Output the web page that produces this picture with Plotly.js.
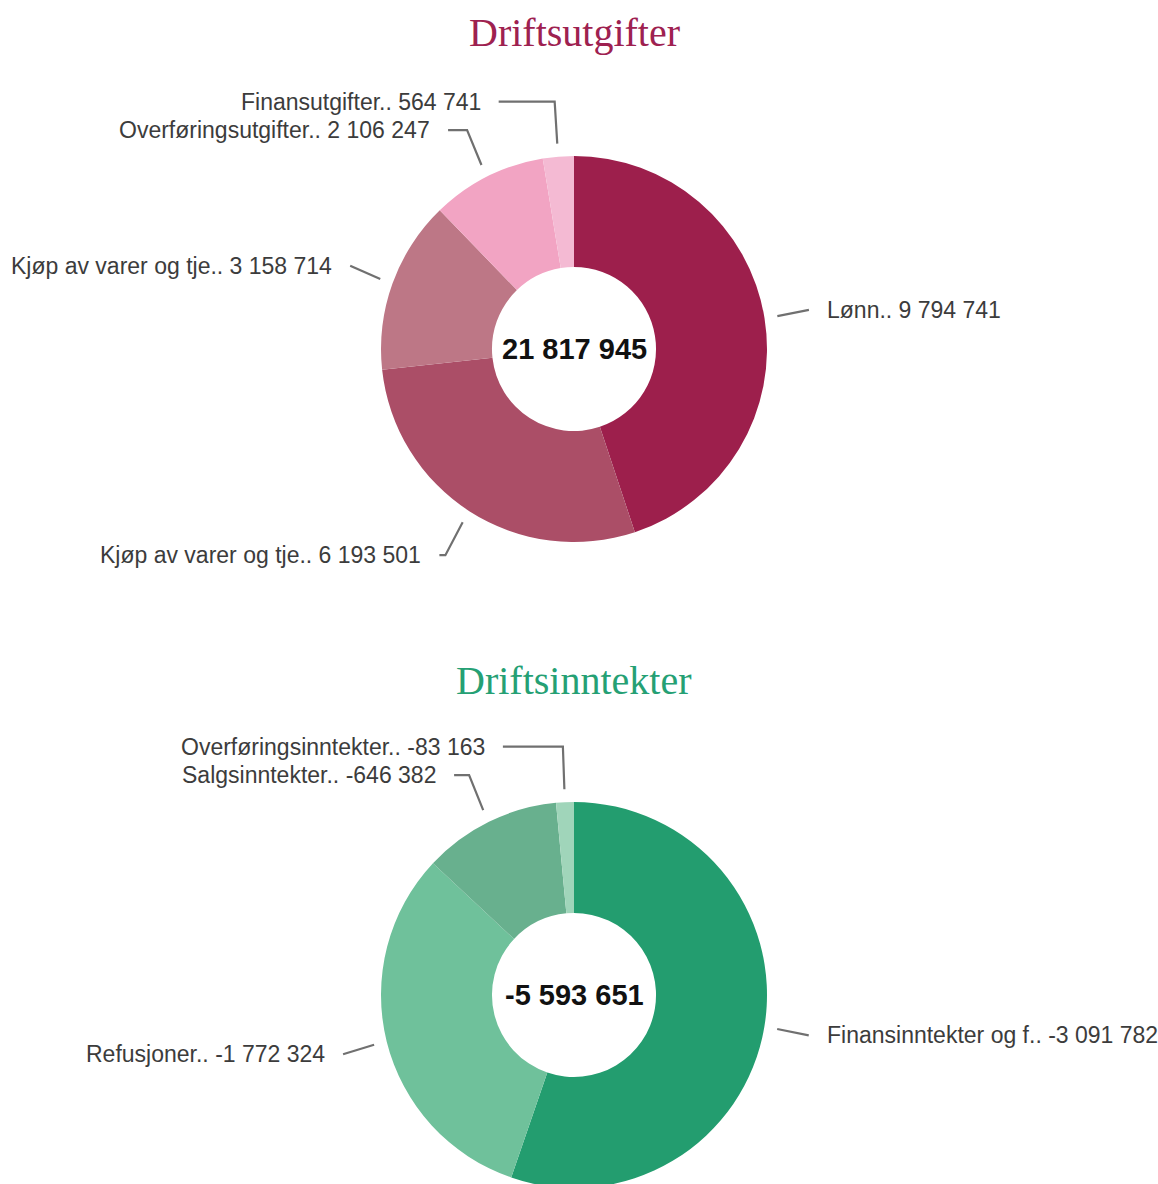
<!DOCTYPE html>
<html>
<head>
<meta charset="utf-8">
<script src="https://cdn.plot.ly/plotly-3.0.1.min.js"></script>
<style>
html,body{margin:0;padding:0;width:1158px;height:1184px;overflow:hidden;background:#fff;}
#chart{width:1158px;height:1250px;}
</style>
</head>
<body>
<div id="chart"></div>
<script>
// ---- data ----
const utgiftLabels = ["Lønn..", "Kjøp av varer og tje..", "Kjøp av varer og tje..", "Overføringsutgifter..", "Finansutgifter.."];
const utgiftValues = [9794741, 6193501, 3158714, 2106247, 564741];
const utgiftTotal = 21817945;

const inntektLabels = ["Finansinntekter og f..", "Refusjoner..", "Salgsinntekter..", "Overføringsinntekter.."];
const inntektValues = [-3091782, -1772324, -646382, -83163];
const inntektTotal = -5593651;

const titles = ["Driftsutgifter", "Driftsinntekter"];

// ---- style ----
const W = 1158, H = 1250;
const utgiftColors = ["#9d1f4c", "#ab4e67", "#bd7786", "#f2a4c3", "#f4bad3"];
const inntektColors = ["#239d6f", "#6fc19b", "#68b08e", "#a0d5ba"];
const titleColors = ["#9e2150", "#25a074"];
const pies = [
  {cx: 574, cy: 349, R: 193, hlen: [0, 6, 0, 19, 56], titleY: 33},
  {cx: 574, cy: 995, R: 193, hlen: [0, 0, 15, 60], titleY: 680}
];
const HOLE = 0.425;
const LABEL_RX = 45, LABEL_RY = 52, TICK_START = 13, GAP = 28.5, TEXT_PAD = 16;

function fmt(n) {
  const neg = n < 0;
  let s = Math.abs(Math.round(n)).toString();
  s = s.replace(/\B(?=(\d{3})+(?!\d))/g, " ");
  return (neg ? "-" : "") + s;
}
const px = v => v / W;
const py = v => 1 - v / H;

const datasets = [
  {labels: utgiftLabels, values: utgiftValues, total: utgiftTotal, colors: utgiftColors},
  {labels: inntektLabels, values: inntektValues, total: inntektTotal, colors: inntektColors}
];

const traces = [];
const annotations = [];
const shapes = [];

datasets.forEach((d, k) => {
  const p = pies[k];
  const absVals = d.values.map(v => Math.abs(v));
  traces.push({
    type: "pie",
    values: absVals,
    labels: d.labels.map((l, i) => l + " " + i),
    hole: HOLE,
    sort: false,
    direction: "clockwise",
    rotation: 0,
    textinfo: "none",
    hoverinfo: "none",
    showlegend: false,
    marker: {colors: d.colors, line: {width: 0}},
    domain: {
      x: [px(p.cx - p.R), px(p.cx + p.R)],
      y: [py(p.cy + p.R), py(p.cy - p.R)]
    }
  });

  // leader lines + labels
  const sum = absVals.reduce((a, b) => a + b, 0);
  let cum = 0;
  const items = absVals.map((v, i) => {
    const frac = v / sum;
    const mid = (cum + frac / 2) * 2 * Math.PI;
    cum += frac;
    const s = Math.sin(mid), c = Math.cos(mid);
    return {
      i, s, c,
      side: s >= 0 ? 1 : -1,
      x0: p.cx + (p.R + TICK_START) * s,
      y0: p.cy - (p.R + TICK_START) * c,
      ex: p.cx + (p.R + LABEL_RX) * s,
      ey: p.cy - (p.R + LABEL_RY) * c
    };
  });
  [1, -1].forEach(side => {
    const grp = items.filter(it => it.side === side).sort((a, b) => a.ey - b.ey);
    for (let j = grp.length - 2; j >= 0; j--) {
      if (grp[j].ey > grp[j + 1].ey - GAP) grp[j].ey = grp[j + 1].ey - GAP;
    }
  });
  items.forEach(it => {
    const endX = it.ex + it.side * p.hlen[it.i];
    shapes.push({
      type: "path",
      xref: "paper", yref: "paper",
      path: `M ${px(it.x0)},${py(it.y0)} L ${px(it.ex)},${py(it.ey)} L ${px(endX)},${py(it.ey)}`,
      line: {color: "#707070", width: 2.2}
    });
    annotations.push({
      xref: "paper", yref: "paper",
      x: px(endX + it.side * TEXT_PAD), y: py(it.ey),
      xanchor: it.side > 0 ? "left" : "right", yanchor: "middle",
      text: d.labels[it.i] + " " + fmt(d.values[it.i]),
      showarrow: false,
      font: {family: "Liberation Sans, Arial, sans-serif", size: 23, color: "#3c3c3c"}
    });
  });

  // center total
  annotations.push({
    xref: "paper", yref: "paper",
    x: px(p.cx), y: py(p.cy),
    xanchor: "center", yanchor: "middle",
    text: "<b>" + fmt(d.total) + "</b>",
    showarrow: false,
    font: {family: "Liberation Sans, Arial, sans-serif", size: 29, color: "#111"}
  });
  // title
  annotations.push({
    xref: "paper", yref: "paper",
    x: px(p.cx), y: py(p.titleY),
    xanchor: "center", yanchor: "middle",
    text: titles[k],
    showarrow: false,
    font: {family: "Liberation Serif, Times New Roman, serif", size: 40, color: titleColors[k]}
  });
});

Plotly.newPlot("chart", traces, {
  width: W, height: H,
  margin: {l: 0, r: 0, t: 0, b: 0},
  paper_bgcolor: "#fff",
  plot_bgcolor: "#fff",
  showlegend: false,
  annotations, shapes
}, {displayModeBar: false, staticPlot: true});
</script>
</body>
</html>
